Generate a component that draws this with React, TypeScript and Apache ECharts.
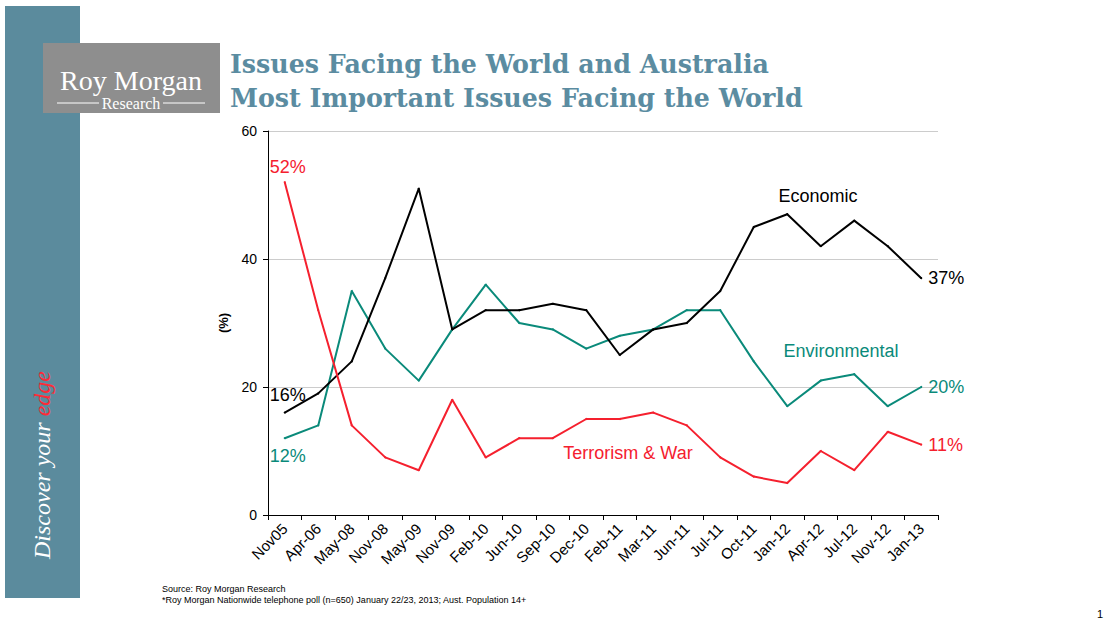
import React, { useEffect, useRef } from "react";
import * as echarts from "echarts";

const categories = [
  "Nov05", "Apr-06", "May-08", "Nov-08", "May-09", "Nov-09", "Feb-10", "Jun-10",
  "Sep-10", "Dec-10", "Feb-11", "Mar-11", "Jun-11", "Jul-11", "Oct-11", "Jan-12",
  "Apr-12", "Jul-12", "Nov-12", "Jan-13",
];
const economic = [16, 19, 24, 37, 51, 29, 32, 32, 33, 32, 25, 29, 30, 35, 45, 47, 42, 46, 42, 37];
const environmental = [12, 14, 35, 26, 21, 29, 36, 30, 29, 26, 28, 29, 32, 32, 24, 17, 21, 22, 17, 20];
const terrorism = [52, 32, 14, 9, 7, 18, 9, 12, 12, 15, 15, 16, 14, 9, 6, 5, 10, 7, 13, 11];
const yTicks = [0, 20, 40, 60];

const RED = "#f5202e";
const TEAL = "#0a8a7a";
const BLACK = "#000000";
const TITLE = "#5b8ca1";
const BANNER = "#5b8b9d";
const SANS = "'Liberation Sans', Arial, sans-serif";

function withEndLabels(values: number[], color: string, firstPos: string, firstDist: number) {
  const last = values.length - 1;
  return values.map((v, i) => {
    if (i === 0) {
      return {
        value: v,
        label: { show: true, position: firstPos, distance: firstDist, offset: [3, 0], formatter: v + "%", color, fontSize: 18, fontFamily: SANS },
      };
    }
    if (i === last) {
      return {
        value: v,
        label: { show: true, position: "right", distance: 6, formatter: v + "%", color, fontSize: 18, fontFamily: SANS },
      };
    }
    return v;
  });
}

export default function App() {
  const ref = useRef<HTMLDivElement>(null);
  useEffect(() => {
    document.body.style.margin = "0";
    if (!ref.current) return;
    const chart = echarts.init(ref.current, undefined, { renderer: "svg" });
    const lineSeries = (name: string, data: any[], color: string, z: number) => ({
      name,
      type: "line",
      data,
      symbol: "circle",
      symbolSize: 2,
      showSymbol: true,
      lineStyle: { color, width: 2 },
      itemStyle: { color },
      emphasis: { disabled: true },
      z,
    });
    chart.setOption({
      animation: false,
      backgroundColor: "#ffffff",
      grid: { left: 268, top: 131, right: 177, bottom: 110 },
      xAxis: {
        type: "category",
        data: categories,
        boundaryGap: true,
        axisLine: { lineStyle: { color: "#000", width: 1 } },
        axisTick: { show: true, length: 5, lineStyle: { color: "#000" } },
        axisLabel: { interval: 0, rotate: 45, color: "#000", fontSize: 15, fontFamily: SANS, margin: 11 },
        splitLine: { show: false },
      },
      yAxis: {
        type: "value",
        min: 0,
        max: 60,
        interval: 20,
        name: "(%)",
        nameLocation: "middle",
        nameGap: 38,
        nameRotate: 90,
        nameTextStyle: { color: "#000", fontSize: 13, fontWeight: "bold", fontFamily: SANS },
        axisLine: { show: true, lineStyle: { color: "#000", width: 1 } },
        axisTick: { show: true, length: 5, lineStyle: { color: "#000" } },
        axisLabel: {
          color: "#000",
          fontSize: 14,
          fontFamily: SANS,
          margin: 11,
          formatter: (v: number) => (yTicks.includes(v) ? String(v) : ""),
        },
        splitLine: { show: true, lineStyle: { color: "#cccccc", width: 1 } },
      },
      series: [
        lineSeries("Economic", withEndLabels(economic, BLACK, "top", 8), BLACK, 3),
        lineSeries("Environmental", withEndLabels(environmental, TEAL, "bottom", 8), TEAL, 2),
        lineSeries("Terrorism & War", withEndLabels(terrorism, RED, "top", 5), RED, 4),
      ],
      graphic: [
        { type: "rect", left: 5, top: 6, shape: { width: 75, height: 592 }, style: { fill: BANNER } },
        { type: "rect", left: 43, top: 43, shape: { width: 177, height: 70 }, style: { fill: "#8e8e8e" } },
        {
          type: "text", x: 131, y: 80,
          style: { text: "Roy Morgan", fill: "#ffffff", font: "28px 'Liberation Serif', 'Times New Roman', serif", align: "center", verticalAlign: "middle" },
        },
        {
          type: "text", x: 131, y: 103,
          style: { text: "Research", fill: "#ffffff", font: "16px 'Liberation Serif', 'Times New Roman', serif", align: "center", verticalAlign: "middle" },
        },
        { type: "line", shape: { x1: 57, y1: 103, x2: 99, y2: 103 }, style: { stroke: "#ffffff", lineWidth: 1 } },
        { type: "line", shape: { x1: 163, y1: 103, x2: 205, y2: 103 }, style: { stroke: "#ffffff", lineWidth: 1 } },
        {
          type: "text", x: 42, y: 465, rotation: Math.PI / 2,
          style: {
            text: "{a|Discover your }{b|edge}",
            align: "center", verticalAlign: "middle",
            rich: {
              a: { fill: "#ffffff", font: "italic 24px 'Liberation Serif', 'Times New Roman', serif" },
              b: { fill: "#ff2a36", font: "italic 24px 'Liberation Serif', 'Times New Roman', serif" },
            },
          },
        },
        {
          type: "text", x: 230, y: 64,
          style: { text: "Issues Facing the World and Australia", fill: TITLE, font: "bold 25.3px 'DejaVu Serif', serif", verticalAlign: "middle" },
        },
        {
          type: "text", x: 230, y: 98,
          style: { text: "Most Important Issues Facing the World", fill: TITLE, font: "bold 25.3px 'DejaVu Serif', serif", verticalAlign: "middle" },
        },
        {
          type: "text", x: 818, y: 196,
          style: { text: "Economic", fill: BLACK, font: "18px " + SANS, align: "center", verticalAlign: "middle" },
        },
        {
          type: "text", x: 841, y: 351,
          style: { text: "Environmental", fill: TEAL, font: "18px " + SANS, align: "center", verticalAlign: "middle" },
        },
        {
          type: "text", x: 628, y: 453,
          style: { text: "Terrorism & War", fill: RED, font: "18px " + SANS, align: "center", verticalAlign: "middle" },
        },
        {
          type: "text", x: 162, y: 589,
          style: { text: "Source: Roy Morgan Research", fill: "#000", font: "9px " + SANS, verticalAlign: "middle" },
        },
        {
          type: "text", x: 162, y: 600,
          style: { text: "*Roy Morgan Nationwide telephone poll (n=650) January 22/23, 2013; Aust. Population 14+", fill: "#000", font: "9px " + SANS, verticalAlign: "middle" },
        },
        {
          type: "text", x: 1100, y: 614,
          style: { text: "1", fill: "#000", font: "11px " + SANS, align: "center", verticalAlign: "middle" },
        },
      ],
    });
    return () => chart.dispose();
  }, []);
  return <div ref={ref} style={{ position: "absolute", left: 0, top: 0, width: 1115, height: 625 }} />;
}
